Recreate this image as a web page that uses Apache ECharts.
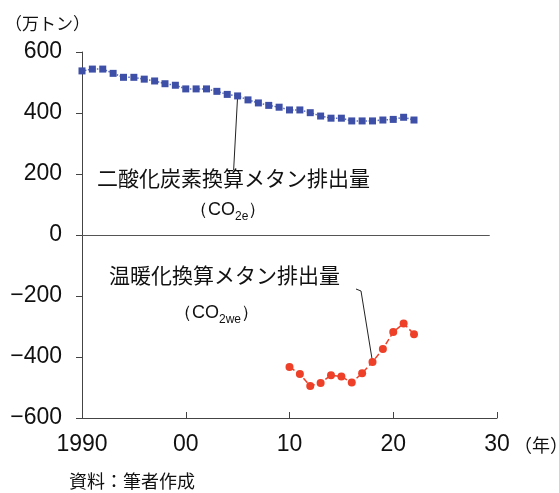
<!DOCTYPE html>
<html>
<head>
<meta charset="utf-8">
<script src="https://cdn.jsdelivr.net/npm/echarts@6/dist/echarts.min.js"></script>
<style>
  html, body { margin: 0; padding: 0; background: #fff; }
  #chart { width: 559px; height: 493px; }
</style>
</head>
<body>
<div id="chart"></div>
<script>
// data
const co2eYears = [1990, 1991, 1992, 1993, 1994, 1995, 1996, 1997, 1998, 1999, 2000,
  2001, 2002, 2003, 2004, 2005, 2006, 2007, 2008, 2009, 2010, 2011,
  2012, 2013, 2014, 2015, 2016, 2017, 2018, 2019, 2020, 2021, 2022];
const co2eValues = [538, 544, 544, 530, 517, 517, 511, 505, 496, 491, 479,
  479, 479, 471, 461, 456, 443, 433, 425, 419, 410, 410,
  401, 390, 383, 383, 374, 374, 374, 377, 379, 386, 377];
const co2weYears = [2010, 2011, 2012, 2013, 2014, 2015, 2016, 2017, 2018, 2019, 2020, 2021, 2022];
const co2weValues = [-433, -456, -495, -485, -460, -464, -484, -453, -416, -374, -318, -290, -325];
const xTicks = { 1990: '1990', 2000: '00', 2010: '10', 2020: '20', 2030: '30' };

const FONT = '"Liberation Sans", Arial, sans-serif';
const JP = '"Noto Sans CJK JP", sans-serif';
const AXIS = '#444';

const chart = echarts.init(document.getElementById('chart'));

const option = {
  animation: false,
  backgroundColor: '#fff',
  grid: { left: 82, right: 62, top: 52, bottom: 75 },
  xAxis: {
    type: 'value', min: 1990, max: 2030, interval: 10,
    axisLine: { onZero: false, lineStyle: { color: AXIS, width: 1 } },
    axisTick: { inside: true, length: 6, lineStyle: { color: AXIS } },
    axisLabel: {
      formatter: v => xTicks[v] || '',
      color: '#111', fontSize: 23, fontFamily: FONT, margin: 15
    },
    splitLine: { show: false }
  },
  yAxis: {
    type: 'value', min: -600, max: 600, interval: 200,
    axisLine: { show: true, lineStyle: { color: AXIS, width: 1 } },
    axisTick: { show: true, length: 6, lineStyle: { color: AXIS } },
    axisLabel: {
      formatter: v => String(v).replace('-', '\u2212'),
      color: '#111', fontSize: 23, fontFamily: FONT, margin: 20
    },
    splitLine: { show: false }
  },
  series: [
    {
      type: 'line',
      data: co2eYears.map((y, i) => [y, co2eValues[i]]),
      symbol: 'rect', symbolSize: 7,
      itemStyle: { color: '#3d4fa6' },
      lineStyle: { color: '#5a6bbd', width: 1.5, type: 'dotted' },
      markLine: {
        silent: true, symbol: 'none', label: { show: false },
        lineStyle: { color: '#555', width: 1, type: 'solid' },
        data: [[{ coord: [1990, 0] }, { coord: [2029.3, 0] }]]
      }
    },
    {
      type: 'line',
      data: co2weYears.map((y, i) => [y, co2weValues[i]]),
      symbol: 'circle', symbolSize: 8,
      itemStyle: { color: '#ee4028' },
      lineStyle: { color: '#ee4028', width: 1.5, type: 'dashed' }
    }
  ]
};
chart.setOption(option);

// leader lines anchored to data points
const pBlue = chart.convertToPixel({ gridIndex: 0 }, [2005, co2eValues[co2eYears.indexOf(2005)]]);
const pRed = chart.convertToPixel({ gridIndex: 0 }, [2018, co2weValues[co2weYears.indexOf(2018)]]);

const subRich = {
  a: { fontSize: 18, fontFamily: FONT, color: '#111', lineHeight: 22, verticalAlign: 'bottom' },
  s: { fontSize: 12, fontFamily: FONT, color: '#111', lineHeight: 15, verticalAlign: 'bottom', padding: [0, 0, -4, 0] }
};

chart.setOption({
  graphic: [
    { type: 'text', left: 5, top: 15, style: { text: '（万トン）', font: '17px ' + JP, fill: '#111' } },
    { type: 'text', left: 514, top: 436, style: { text: '（年）', font: '18px ' + JP, fill: '#111' } },
    { type: 'text', left: 69, top: 472, style: { text: '資料：筆者作成', font: '18px ' + JP, fill: '#111' } },
    { type: 'text', left: 97, top: 168, style: { text: '二酸化炭素換算メタン排出量', font: '21px ' + JP, fill: '#111' } },
    { type: 'text', left: 190, top: 201, style: { text: '（CO{s|2e}）', rich: subRich, font: '18px ' + FONT, fill: '#111' } },
    { type: 'text', left: 109, top: 265, style: { text: '温暖化換算メタン排出量', font: '21px ' + JP, fill: '#111' } },
    { type: 'text', left: 174, top: 304, style: { text: '（CO{s|2we}）', rich: subRich, font: '18px ' + FONT, fill: '#111' } },
    { type: 'line', shape: { x1: pBlue[0], y1: pBlue[1], x2: pBlue[0] - 4, y2: 170 }, style: { stroke: '#222', lineWidth: 1 } },
    { type: 'polyline', shape: { points: [[356, 289], [361, 291], [pRed[0], pRed[1]]] }, style: { stroke: '#222', lineWidth: 1, fill: null } }
  ]
});
</script>
</body>
</html>
